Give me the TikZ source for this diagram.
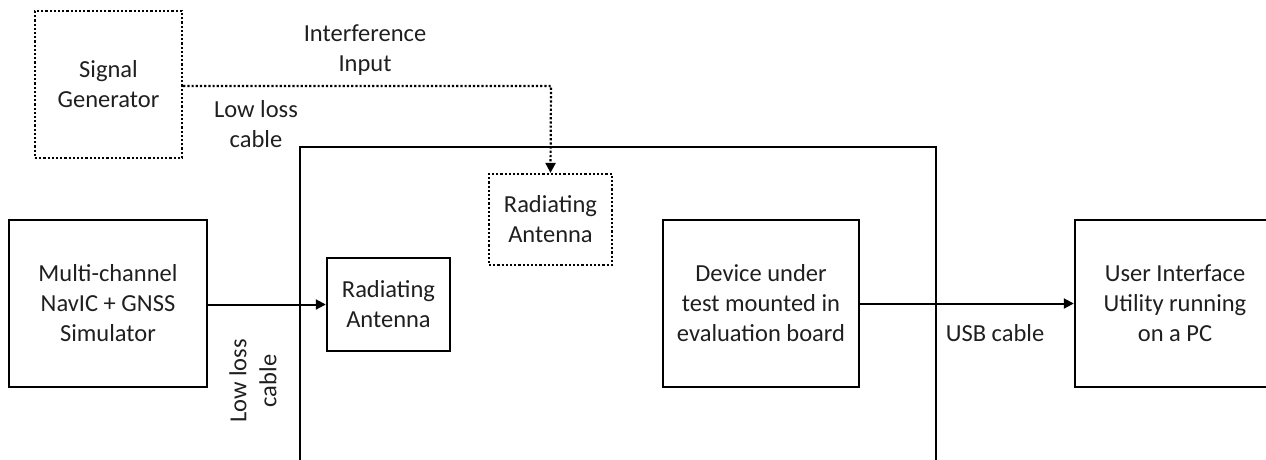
\documentclass[tikz,border=0pt]{standalone}
\usepackage{fontspec}
\setmainfont{Carlito}
\usetikzlibrary{arrows.meta}

\tikzset{
  base/.style={font=\fontsize{24.5}{30}\selectfont, text=black!88, align=center},
  box/.style={base, draw, line width=2.4pt, rectangle, inner sep=0pt},
  dotbox/.style={box, line width=2.2pt, dash pattern=on 2.2pt off 2pt},
  wire/.style={line width=2pt, -{Triangle[length=10pt,width=10pt]}},
  dotwire/.style={wire, line width=2.2pt, dash pattern=on 2.2pt off 2pt},
  lbl/.style={base, inner sep=0pt},
}

\begin{document}
\begin{tikzpicture}[x=1pt,y=-1pt]
\useasboundingbox (0,0) rectangle (1266,459);
\clip (0,0) rectangle (1266,459);

% enclosure (open at the bottom)
\draw[line width=2.4pt] (300,470) -- (300,147) -- (936,147) -- (936,470);

% blocks
\node[dotbox, minimum width=147pt, minimum height=147pt] (sg) at (108.5,84.5) {Signal\\Generator};
\node[box, minimum width=198pt, minimum height=167pt] (sim) at (108,303.5) {Multi-channel\\NavIC + GNSS\\Simulator};
\node[box, minimum width=123pt, minimum height=93pt] (ant1) at (388.5,304.5) {Radiating\\Antenna};
\node[dotbox, minimum width=123pt, minimum height=91pt] (ant2) at (550.5,219.5) {Radiating\\Antenna};
\node[box, minimum width=196pt, minimum height=167pt] (dut) at (761,303.5) {Device under\\test mounted in\\evaluation board};
\node[box, minimum width=200pt, minimum height=167pt] (ui) at (1175,303.5) {User Interface\\Utility running\\on a PC};

% connectors
\coordinate (bend) at (551,86);
\draw[dotwire] (sg.east |- bend) -- (bend) -- (ant2.north);
\draw[wire] (sim.east |- ant1.west) -- (ant1.west);
\draw[wire] (dut.east) -- (dut.east -| ui.west);

% labels
\node[lbl] (intf) at (365,50) {Interference\\Input};
\node[lbl] (llc1) at (256,124) {Low loss\\cable};
\node[lbl, rotate=90] (llc2) at (253,381) {Low loss\\cable};
\node[lbl] (usb) at (995,333) {USB cable};
\end{tikzpicture}
\end{document}
